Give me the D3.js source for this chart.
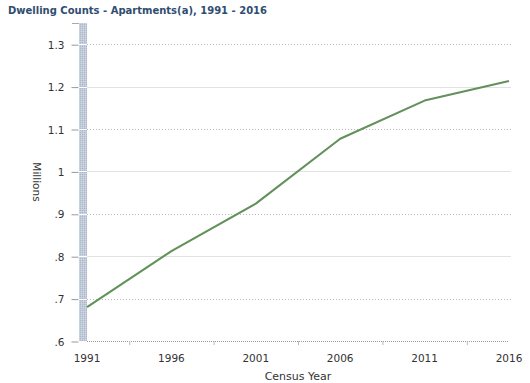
<!DOCTYPE html>
<html><head><meta charset="utf-8">
<script src="https://cdn.jsdelivr.net/npm/d3@7"></script>
<style>body{margin:0;background:#fff;} svg{display:block;}</style>
</head><body>
<svg id="c" width="530" height="383"></svg>
<script>
const years = [1991, 1996, 2001, 2006, 2011, 2016];
const apartments = [0.680, 0.812, 0.924, 1.077, 1.167, 1.213];
const yTicks = [0.6, 0.7, 0.8, 0.9, 1.0, 1.1, 1.2, 1.3];
const yTickLabels = [".6", ".7", ".8", ".9", "1", "1.1", "1.2", "1.3"];
const title = "Dwelling Counts - Apartments(a), 1991 - 2016";
const xTitle = "Census Year";
const yTitle = "Millions";

const svg = d3.select("#c");
const font = "'DejaVu Sans', Verdana, sans-serif";
const x = d3.scaleLinear().domain([1991, 2016]).range([87, 509]);
const y = d3.scaleLinear().domain([0.6, 1.35]).range([341, 23]);

// title
svg.append("text").attr("x", 8).attr("y", 14).text(title)
  .attr("font-family", font).attr("font-size", 10).attr("font-weight", "bold")
  .attr("fill", "#2f4d70");

// gridlines
yTicks.forEach((t, i) => {
  if (i === 0) return;
  const solid = (i % 2 === 0);
  svg.append("line").attr("x1", 87).attr("x2", 511)
    .attr("y1", Math.round(y(t)) + 0.5).attr("y2", Math.round(y(t)) + 0.5)
    .attr("stroke", solid ? "#e2e2e2" : "#b8b8b8")
    .attr("stroke-dasharray", solid ? null : "1,2");
});

// wall band
const defs = svg.append("defs");
const pat = defs.append("pattern").attr("id", "wall").attr("patternUnits", "userSpaceOnUse")
  .attr("width", 2).attr("height", 2);
pat.append("rect").attr("width", 2).attr("height", 2).attr("fill", "#c0cad8");
pat.append("rect").attr("width", 1).attr("height", 1).attr("fill", "#adb9ca");
pat.append("rect").attr("x", 1).attr("y", 1).attr("width", 1).attr("height", 1).attr("fill", "#d0d8e3");
svg.append("rect").attr("x", 79).attr("y", 23).attr("width", 8).attr("height", y(0.6) - 23)
  .attr("fill", "url(#wall)");
yTicks.forEach((t, i) => {
  if (i === 0) return;
  svg.append("line").attr("x1", 79).attr("x2", 87)
    .attr("y1", Math.round(y(t)) + 0.5).attr("y2", Math.round(y(t)) + 0.5)
    .attr("stroke", "#fff");
});
// top tick
svg.append("line").attr("x1", 72).attr("x2", 79).attr("y1", 23.5).attr("y2", 23.5).attr("stroke", "#aaa");

// y axis ticks and labels
const yAxis = d3.axisLeft(y).tickValues(yTicks).tickSize(7).tickPadding(7)
  .tickFormat((d, i) => yTickLabels[i]);
const gy = svg.append("g").attr("transform", "translate(78.5,0.5)").call(yAxis);
gy.select(".domain").remove();
gy.selectAll(".tick line").attr("stroke", "#999");
gy.selectAll(".tick text").attr("font-family", font).attr("font-size", 10.5).attr("fill", "#333")
  .attr("dy", "0.35em");

// x axis baseline
svg.append("line").attr("x1", 87).attr("x2", 509).attr("y1", 341.5).attr("y2", 341.5)
  .attr("stroke", "#999").attr("stroke-dasharray", "1,1");
// x minor ticks at midpoints
const mids = years.slice(1).map((d, i) => (d + years[i]) / 2);
const xAxis = d3.axisBottom(x).tickValues(mids).tickSize(4).tickFormat("");
const gx = svg.append("g").attr("transform", "translate(0,341)").call(xAxis);
gx.select(".domain").remove();
gx.selectAll(".tick line").attr("stroke", "#bbb");
// x labels
svg.append("g").selectAll("text").data(years).join("text")
  .attr("x", d => x(d)).attr("y", 362).attr("text-anchor", "middle")
  .attr("font-family", font).attr("font-size", 10.5).attr("fill", "#333").text(d => d);

// axis titles
svg.append("text").attr("x", x(2003.5)).attr("y", 380).attr("text-anchor", "middle")
  .attr("font-family", font).attr("font-size", 11).attr("fill", "#333").text(xTitle);
svg.append("text").attr("transform", `translate(33,${(23 + 341) / 2}) rotate(90)`)
  .attr("text-anchor", "middle")
  .attr("font-family", font).attr("font-size", 10.5).attr("fill", "#333").text(yTitle);

// line
const line = d3.line().x((d, i) => x(years[i])).y(d => y(d));
svg.append("path").datum(apartments).attr("d", line)
  .attr("fill", "none").attr("stroke", "#62915a").attr("stroke-width", 2.1)
  .attr("stroke-linejoin", "round");
</script>
</body></html>
